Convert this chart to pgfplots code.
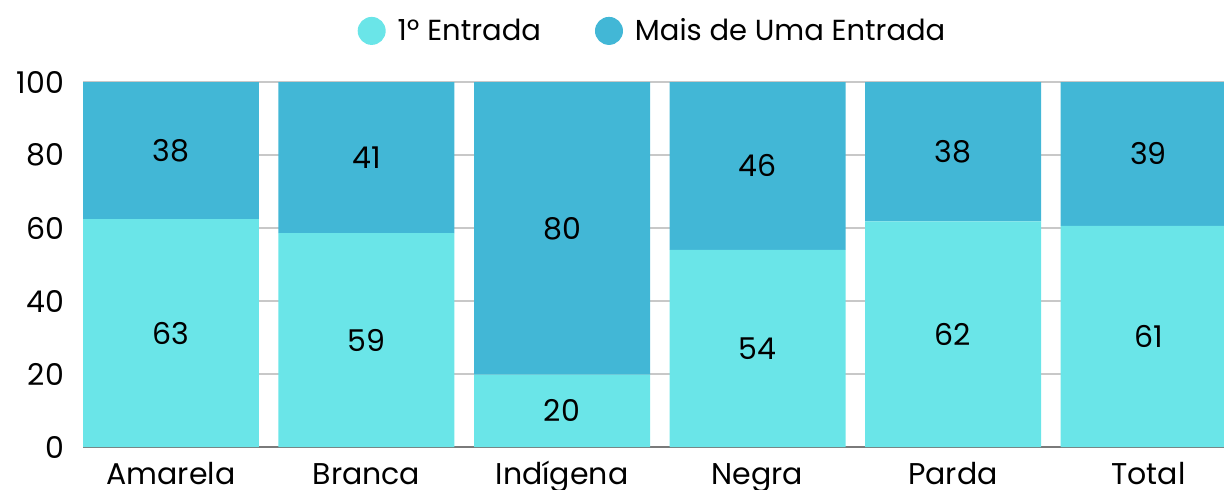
\documentclass[border=0pt]{standalone}
\usepackage{fontspec}
\setmainfont{Poppins}
\usepackage{pgfplots}
\pgfplotsset{compat=1.18}
\definecolor{cLight}{HTML}{6AE5E8}
\definecolor{cDark}{HTML}{42B7D6}
\definecolor{gridc}{HTML}{C8C8C8}
\definecolor{axc}{HTML}{7A7A7A}
\newcommand{\fs}{\fontsize{15}{18}\selectfont}
\newcommand{\fl}{\fontsize{14.5}{17}\selectfont}
\begin{document}
\begin{tikzpicture}
\clip (-41.5pt,-21pt) rectangle (570.5pt,223.5pt);
\begin{axis}[
  at={(0pt,0pt)}, anchor=south west,
  scale only axis, width=570.5pt, height=182.5pt,
  ybar stacked, bar width=88pt,
  xmin=-0.45, xmax=5.386, ymin=0, ymax=100,
  xtick={0,1,2,3,4,5},
  xticklabels={Amarela,Branca,Indígena,Negra,Parda,Total},
  ytick={0,20,40,60,80,100},
  /pgf/number format/assume math mode=true,
  tick label style={font=\fs, text=black},
  yticklabel style={xshift=-6pt},
  xticklabel style={anchor=base, yshift=-18.5pt},
  major tick length=0pt,
  axis line style={draw=none},
  axis x line*=bottom, axis y line*=left,
  ymajorgrids, grid style={gridc, line width=0.8pt},
  axis on top=false,
  legend style={at={(0.5,1.14)}, anchor=center, draw=none, fill=none,
    legend columns=-1, font=\fl,
    /tikz/every odd column/.append style={column sep=4pt},
    /tikz/every even column/.append style={column sep=25pt}},
  legend cell align=left,
]
\addplot[fill=cLight, draw=none,
  legend image code/.code={\fill[cLight] (0pt,0pt) circle (7pt);}]
  coordinates {(0,62.4) (1,58.6) (2,19.8) (3,54.0) (4,61.8) (5,60.6)};
\addplot[fill=cDark, draw=none,
  legend image code/.code={\fill[cDark] (0pt,0pt) circle (7pt);}]
  coordinates {(0,37.6) (1,41.4) (2,80.2) (3,46.0) (4,38.2) (5,39.4)};
\legend{1º Entrada, Mais de Uma Entrada}
\draw[axc, line width=1pt] (axis cs:-0.45,0) -- (axis cs:5.386,0);
\end{axis}
\begin{axis}[
  at={(0pt,0pt)}, anchor=south west,
  scale only axis, width=570.5pt, height=182.5pt,
  xmin=-0.45, xmax=5.386, ymin=0, ymax=100,
  hide axis, clip=false,
]
\addplot[draw=none, mark=none, nodes near coords, point meta=explicit symbolic,
  every node near coord/.append style={anchor=center, font=\fs, text=black, inner sep=0pt}]
  table[meta=lab] {
x y lab
0 31.2 63
1 29.3 59
2 9.9 20
3 27.0 54
4 30.9 62
5 30.3 61
0 81.2 38
1 79.3 41
2 59.9 80
3 77.0 46
4 80.9 38
5 80.3 39
};
\end{axis}
\end{tikzpicture}
\end{document}
